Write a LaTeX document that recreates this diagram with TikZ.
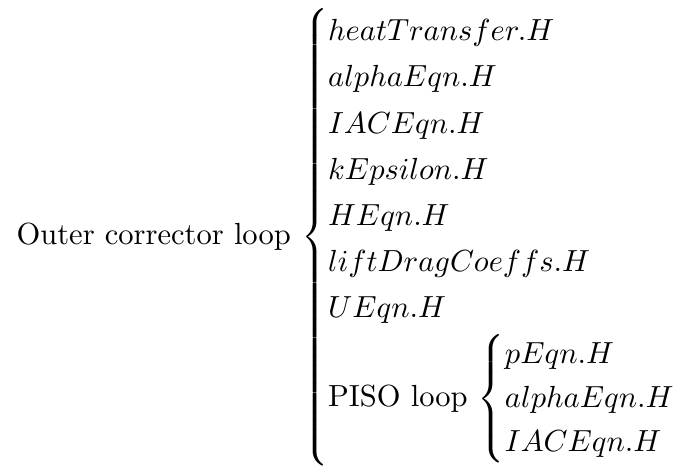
\documentclass[tikz,border=0pt]{standalone}
\usepackage{amsmath}
\usetikzlibrary{calc}
\begin{document}
\begin{tikzpicture}
\node[anchor=base west, inner sep=0pt] (main) at (0,0) {Outer corrector loop $\delimitershortfall=-1pt\begin{cases}
heatTransfer.H\\[0.7pt]
alphaEqn.H\\[0.7pt]
IACEqn.H\\[0.7pt]
kEpsilon.H\\[0.7pt]
HEqn.H\\[0.7pt]
liftDragCoeffs.H\\[0.7pt]
UEqn.H\\[0.7pt]
\delimitershortfall=5pt\text{PISO loop}\,\begin{cases}
pEqn.H\\
alphaEqn.H\\
IACEqn.H
\end{cases}
\end{cases}$};
\pgfresetboundingbox
\path let \p1=(main.west), \p2=(main.east), \p3=(main.base), \n1={(\x2-\x1-2.8pt)/718} in
  [use as bounding box] (\x1-16*\n1, \y3-221*\n1) rectangle (\x1+663*\n1, \y3+245*\n1);
\end{tikzpicture}
\end{document}
